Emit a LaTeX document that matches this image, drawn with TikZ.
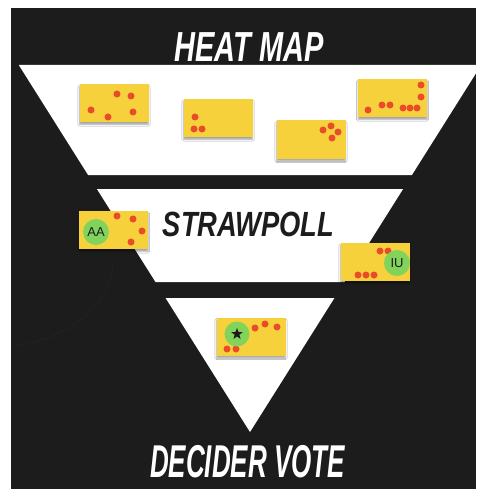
\documentclass[tikz,border=0pt]{standalone}
\usepackage{fontspec}
\usepackage{tikz}
\usetikzlibrary{shapes.geometric,shadows.blur}
\setsansfont{Liberation Sans}
\newfontfamily\bannerfont{Liberation Sans}
\definecolor{board} {HTML}{1C1C1C}
\definecolor{trace} {HTML}{232323}
\definecolor{sticky}{HTML}{F6D13B}
\definecolor{dotred}{HTML}{E94B2B}
\definecolor{voteg} {HTML}{82D35C}

\begin{document}
\begin{tikzpicture}[x=1pt,y=-1pt,
    note/.style={fill=sticky, minimum width=69pt, minimum height=38pt, inner sep=0pt,
      blur shadow={shadow xshift=0pt, shadow yshift=-2.5pt, shadow opacity=35}},
    voter/.style={circle, fill=voteg, minimum size=26pt, inner sep=0pt,
      font=\sffamily\fontsize{13}{13}\selectfont, text=board},
    banner/.style={inner sep=0pt, font=\bannerfont\bfseries\itshape},
    dot/.style={fill=dotred}]
  \useasboundingbox (0,0) rectangle (476,489);
  \fill[board] (11,8) rectangle (476,489);
  % funnel: three slices of one triangle, apex at (250,432)
  \begin{scope}
    \clip (11,8) rectangle (476,489);
    \foreach \ytop/\ybot in {65/175,189/282,298/432}
      \fill[white] ({250-0.63*(432-\ytop)},\ytop) -- ({250+0.63*(432-\ytop)},\ytop)
        -- ({250+0.63*(432-\ybot)},\ybot) -- ({250-0.63*(432-\ybot)},\ybot) -- cycle;
  \end{scope}
  \draw[trace, line width=0.6pt] (113,262) .. controls (111,305) and (70,338) .. (15,346);

  \node[banner, text=white] (heat) at (249,47)
    {\fontsize{42}{42}\selectfont\scalebox{0.69}[1]{HEAT MAP}};
  \node[banner, text=board] (straw) at (248.5,224.5)
    {\fontsize{35}{35}\selectfont\scalebox{0.78}[1]{STRAWPOLL}};
  \node[banner, text=white] (decider) at (247.5,462)
    {\fontsize{46}{46}\selectfont\scalebox{0.565}[1]{DECIDER VOTE}};

  % heat map notes
  \node[note] (heat1) at (114,103) {};
  \node[note] (heat2) at (218,118) {};
  \node[note] (heat3) at (311,139.5) {};
  \node[note] (heat4) at (392.5,98) {};
  \foreach \p in {(117,94),(131,96),(91,110),(108,117),(133,112),
                  (195,117),(194,129),(202,129),
                  (323,130),(331,126),(338,132),(332,138),
                  (421,85),(421,97),(368,110),(382,105),(390,105),(403,108),(410,108),(417,108)}
    \fill[dot] \p circle (3.5);

  % strawpoll notes
  \node[note] (straw1) at (113.5,230) {};
  \node[note] (straw2) at (375,262) {};
  \foreach \p in {(117,216),(133,219),(142,231),(131,242),
                  (380,251),(388,251),(358,275),(366,275),(374,275)}
    \fill[dot] \p circle (3.5);
  \node[voter] (aa) at (96,232) {AA};
  \node[voter] (iu) at (397,263) {IU};

  % decider note
  \node[note] (final) at (251,336.5) {};
  \foreach \p in {(255,328),(265,324),(277,327),(227,349),(236,349)}
    \fill[dot] \p circle (3.5);
  \node[voter, minimum size=25pt] (pick) at (237,334) {};
  \node[star, star points=5, star point ratio=2.4, fill=board, inner sep=0pt,
    minimum size=12pt] (winner) at (pick) {};
\end{tikzpicture}
\end{document}
